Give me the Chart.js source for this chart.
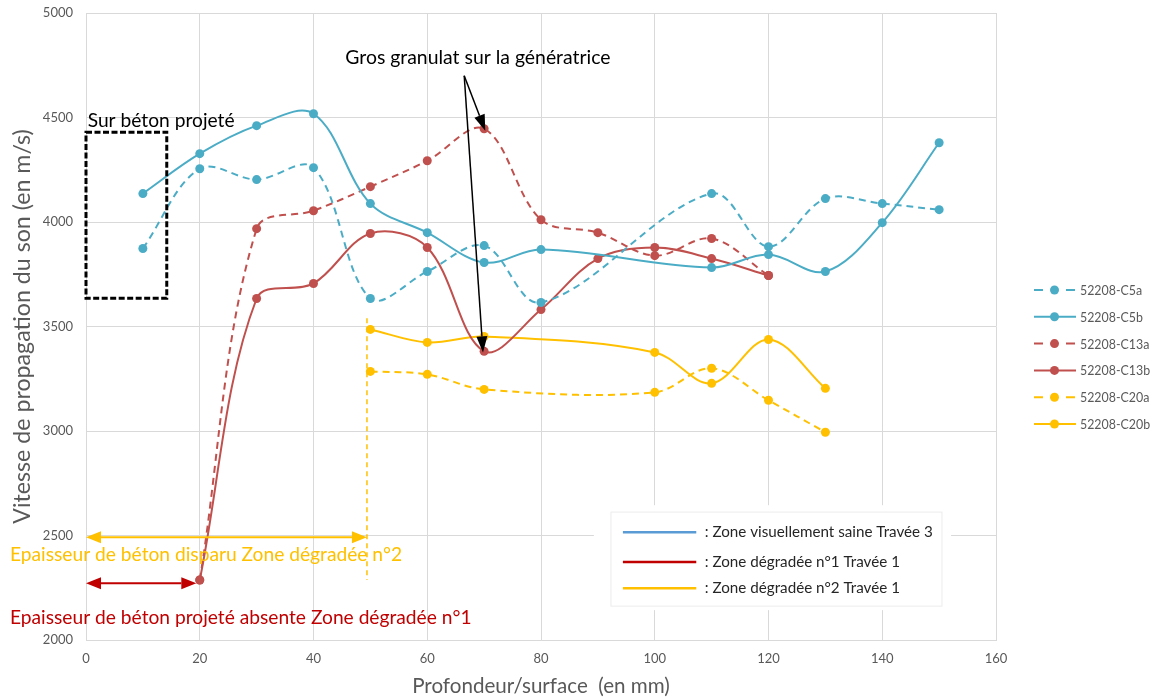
<!DOCTYPE html>
<html>
<head>
<meta charset="utf-8">
<script src="https://cdn.jsdelivr.net/npm/chart.js@4"></script>
<style>
  html, body { margin: 0; background: #fff; }
</style>
</head>
<body>
<canvas id="myChart" width="1153" height="697"></canvas>
<script>
// depth (mm) for each group of cores
const depthC5 = [10, 20, 30, 40, 50, 60, 70, 80, 110, 120, 130, 140, 150];
const depthC13 = [20, 30, 40, 50, 60, 70, 80, 90, 100, 110, 120];
const depthC20 = [50, 60, 70, 100, 110, 120, 130];

// sound speed (m/s)
const c5a = [3873, 4255, 4203, 4260, 3634, 3763, 3887, 3615, 4136, 3882, 4112, 4088, 4059];
const c5b = [4136, 4327, 4461, 4518, 4088, 3949, 3806, 3868, 3782, 3844, 3763, 3997, 4379];
const c13a = [2287, 3968, 4054, 4169, 4293, 4446, 4011, 3949, 3839, 3921, 3744];
const c13b = [2287, 3634, 3706, 3945, 3878, 3381, 3581, 3825, 3878, 3825, 3744];
const c20a = [3285, 3271, 3199, 3185, 3300, 3147, 2994];
const c20b = [3486, 3424, 3452, 3376, 3228, 3438, 3204];

const seriesNames = ['52208-C5a', '52208-C5b', '52208-C13a', '52208-C13b', '52208-C20a', '52208-C20b'];
const xTicks = [0, 20, 40, 60, 80, 100, 120, 140, 160];
const yTicks = [2000, 2500, 3000, 3500, 4000, 4500, 5000];

const zoneLabels = [': Zone visuellement saine Travée 3', ': Zone dégradée n°1 Travée 1', ': Zone dégradée n°2 Travée 1'];

const BLUE = '#4BACC6', RED = '#C0504D', YELLOW = '#FFC000';
const FONT = 'Lato, "Open Sans", sans-serif';
const GREY = '#595959';

// pick a font size so text fills a given width (Calibri-like look)
const mctx = document.createElement('canvas').getContext('2d');
function fitSize(text, width) {
  mctx.font = '100px ' + FONT;
  return Math.round(1000 * width / mctx.measureText(text).width) / 10;
}

function series(label, xs, ys, color, dashed) {
  return {
    label: label,
    data: xs.map((x, i) => ({ x: x, y: ys[i] })),
    showLine: true,
    borderColor: color,
    backgroundColor: color,
    pointBackgroundColor: color,
    pointBorderWidth: 0,
    pointRadius: 4.5,
    pointHoverRadius: 4.5,
    borderWidth: 2,
    borderDash: dashed ? [7, 5] : [],
    tension: 0.35,
    dashed: dashed
  };
}

function arrowHead(ctx, x1, y1, x2, y2, len, wid) {
  const a = Math.atan2(y2 - y1, x2 - x1);
  const bx = x2 - len * Math.cos(a), by = y2 - len * Math.sin(a);
  ctx.beginPath();
  ctx.moveTo(x2, y2);
  ctx.lineTo(bx + wid / 2 * Math.sin(a), by - wid / 2 * Math.cos(a));
  ctx.lineTo(bx - wid / 2 * Math.sin(a), by + wid / 2 * Math.cos(a));
  ctx.closePath();
  ctx.fill();
  return [bx, by];
}

function arrow(ctx, x1, y1, x2, y2, color, lw, len, wid, both) {
  ctx.save();
  ctx.strokeStyle = color; ctx.fillStyle = color; ctx.lineWidth = lw;
  const end = arrowHead(ctx, x1, y1, x2, y2, len, wid);
  const start = both ? arrowHead(ctx, x2, y2, x1, y1, len, wid) : [x1, y1];
  ctx.beginPath();
  ctx.moveTo(start[0], start[1]);
  ctx.lineTo(end[0], end[1]);
  ctx.stroke();
  ctx.restore();
}

const annotations = {
  id: 'annotations',
  beforeDatasetsDraw(chart) {
    const ctx = chart.ctx, xs = chart.scales.x, ys = chart.scales.y;
    const px = v => xs.getPixelForValue(v), py = v => ys.getPixelForValue(v);
    // white box hiding grid under zone legend
    ctx.save();
    ctx.fillStyle = '#fff';
    ctx.fillRect(px(89.3), py(2645), px(152.1) - px(89.3), py(2143) - py(2645));
    ctx.strokeStyle = '#ececec';
    ctx.lineWidth = 1;
    ctx.strokeRect(px(92.3), py(2612), px(150.5) - px(92.3), py(2162) - py(2612));
    ctx.restore();
  },
  afterDatasetsDraw(chart) {
    const ctx = chart.ctx, xs = chart.scales.x, ys = chart.scales.y;
    const px = v => xs.getPixelForValue(v), py = v => ys.getPixelForValue(v);

    // dashed box "Sur béton projeté"
    ctx.save();
    ctx.strokeStyle = '#000';
    ctx.lineWidth = 3;
    ctx.setLineDash([6, 2.5]);
    ctx.strokeRect(px(0), py(4430), px(14.2) - px(0), py(3635) - py(4430));
    ctx.restore();

    ctx.save();
    ctx.textBaseline = 'middle';
    ctx.fillStyle = '#000';
    let t = 'Sur béton projeté';
    ctx.font = fitSize(t, 147) + 'px ' + FONT;
    ctx.fillText(t, px(0.3), py(4485));

    t = 'Gros granulat sur la génératrice';
    ctx.font = fitSize(t, 265) + 'px ' + FONT;
    ctx.textAlign = 'center';
    ctx.fillText(t, px(68.9), py(4785));
    ctx.restore();

    // arrows to the coarse aggregate
    arrow(ctx, px(66.5), py(4700), px(70.2), py(4437), '#000', 1.5, 16, 11, false);
    arrow(ctx, px(66.5), py(4700), px(69.8), py(3376), '#000', 1.5, 16, 11, false);

    // zone 2 thickness
    ctx.save();
    ctx.strokeStyle = YELLOW;
    ctx.lineWidth = 1.5;
    ctx.setLineDash([5, 4]);
    ctx.beginPath();
    ctx.moveTo(px(49.4), py(3540));
    ctx.lineTo(px(49.4), py(2287));
    ctx.stroke();
    ctx.restore();
    arrow(ctx, px(0), py(2492), px(49.4), py(2492), YELLOW, 2, 15, 12, true);
    arrow(ctx, px(0), py(2272), px(19.4), py(2272), '#C00000', 2, 15, 12, true);

    ctx.save();
    ctx.textBaseline = 'middle';
    t = 'Epaisseur de béton disparu Zone dégradée n°2';
    ctx.font = fitSize(t, 392) + 'px ' + FONT;
    ctx.fillStyle = YELLOW;
    ctx.fillText(t, 10, py(2406));
    t = 'Epaisseur de béton projeté absente Zone dégradée n°1';
    ctx.font = fitSize(t, 462) + 'px ' + FONT;
    ctx.fillStyle = '#C00000';
    ctx.fillText(t, 10, py(2105));
    ctx.restore();

    // zone legend box
    const zoneColors = ['#5B9BD5', '#C00000', YELLOW];
    const rows = [2516, 2373, 2248];
    ctx.save();
    ctx.textBaseline = 'middle';
    ctx.font = fitSize(zoneLabels[0], 228) + 'px ' + FONT;
    zoneLabels.forEach((lab, i) => {
      ctx.strokeStyle = zoneColors[i];
      ctx.lineWidth = 2.5;
      ctx.beginPath();
      ctx.moveTo(px(94.4), py(rows[i]));
      ctx.lineTo(px(107.3), py(rows[i]));
      ctx.stroke();
      ctx.fillStyle = '#262626';
      ctx.fillText(lab, px(108.8), py(rows[i]));
    });
    ctx.restore();
  },
  afterDraw(chart) {
    // series legend on the right
    const ctx = chart.ctx;
    const x0 = 1034, y0 = 290, step = 26.8;
    ctx.save();
    ctx.textBaseline = 'middle';
    ctx.font = fitSize(seriesNames[0], 62) + 'px ' + FONT;
    chart.data.datasets.forEach((ds, i) => {
      const y = y0 + i * step;
      ctx.strokeStyle = ds.borderColor;
      ctx.fillStyle = ds.borderColor;
      ctx.lineWidth = 2;
      ctx.beginPath();
      if (ds.dashed) {
        ctx.moveTo(x0, y); ctx.lineTo(x0 + 9, y);
        ctx.moveTo(x0 + 32, y); ctx.lineTo(x0 + 41, y);
      } else {
        ctx.moveTo(x0, y); ctx.lineTo(x0 + 42, y);
      }
      ctx.stroke();
      ctx.beginPath();
      ctx.arc(x0 + 20.5, y, 4.5, 0, Math.PI * 2);
      ctx.fill();
      ctx.fillStyle = GREY;
      ctx.fillText(ds.label, x0 + 46, y + 1);
    });
    ctx.restore();
  }
};

const yTitle = 'Vitesse de propagation du son (en m/s)';
const xTitle = 'Profondeur/surface  (en mm)';
const yTitleSize = fitSize(yTitle, 395);
const xTitleSize = fitSize(xTitle, 258);

const ctx = document.getElementById('myChart');

new Chart(ctx, {
  type: 'scatter',
  data: {
    datasets: [
      series(seriesNames[0], depthC5, c5a, BLUE, true),
      series(seriesNames[1], depthC5, c5b, BLUE, false),
      series(seriesNames[2], depthC13, c13a, RED, true),
      series(seriesNames[3], depthC13, c13b, RED, false),
      series(seriesNames[4], depthC20, c20a, YELLOW, true),
      series(seriesNames[5], depthC20, c20b, YELLOW, false)
    ]
  },
  options: {
    responsive: false,
    animation: false,
    layout: { padding: { top: 13, right: 157, left: 0, bottom: 0 } },
    plugins: {
      legend: { display: false },
      tooltip: { enabled: false }
    },
    scales: {
      x: {
        type: 'linear',
        min: 0,
        max: 160,
        afterBuildTicks: s => { s.ticks = xTicks.map(v => ({ value: v })); },
        afterFit: s => { s.height = 57; },
        grid: { color: '#d9d9d9', drawTicks: false },
        border: { color: '#d9d9d9' },
        ticks: { color: GREY, padding: 11, font: { family: FONT, size: 13 }, callback: v => String(v) },
        title: {
          display: true,
          text: xTitle,
          color: GREY,
          font: { family: FONT, size: xTitleSize },
          padding: { top: 0, bottom: 11 - xTitleSize * 0.6 }
        }
      },
      y: {
        type: 'linear',
        min: 2000,
        max: 5000,
        afterBuildTicks: s => { s.ticks = yTicks.map(v => ({ value: v })); },
        afterFit: s => { s.width = 86; s.paddingTop = 6; s.paddingBottom = 6; },
        grid: { color: '#d9d9d9', drawTicks: false },
        border: { color: '#d9d9d9' },
        ticks: { color: GREY, padding: 13, font: { family: FONT, size: 13 }, callback: v => String(v) },
        title: {
          display: true,
          text: yTitle,
          color: GREY,
          font: { family: FONT, size: yTitleSize },
          padding: { top: 23 - yTitleSize * 0.6, bottom: 0 }
        }
      }
    }
  },
  plugins: [annotations]
});
</script>
</body>
</html>
